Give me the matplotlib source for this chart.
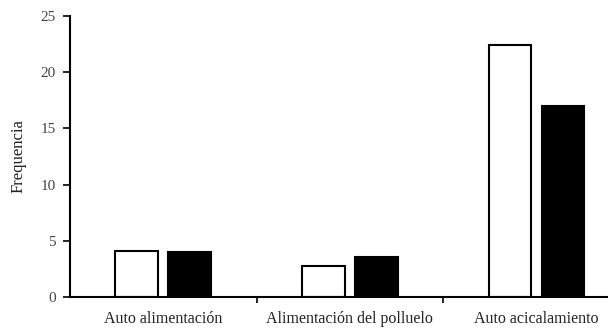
import matplotlib
matplotlib.use("Agg")
import matplotlib.pyplot as plt
import numpy as np

categories = ["Auto alimentación", "Alimentación del polluelo", "Auto acicalamiento"]
serie_blanca = [4.1, 2.8, 22.4]
serie_negra = [4.0, 3.6, 17.0]
y_ticks = [0, 5, 10, 15, 20, 25]

plt.rcParams['font.family'] = ['Liberation Serif', 'DejaVu Serif']

fig = plt.figure(figsize=(6.08, 3.29), dpi=100)
ax = fig.add_axes([70/608, 32/329, 1 - 70/608, 281/329])

x = np.arange(len(categories))
w = 0.23
off = 0.142
ax.bar(x - off, serie_blanca, width=w, color='white', edgecolor='black', linewidth=1.5)
ax.bar(x + off, serie_negra, width=w, color='black', edgecolor='black', linewidth=1.5)

ax.set_xlim(-0.5, 2.383)
ax.set_ylim(0, 25)
ax.set_yticks(y_ticks)
ax.set_yticklabels([str(t) for t in y_ticks], fontsize=11, color='#444444')
ax.set_xticks(x)
ax.set_xticklabels(categories, fontsize=11.5, color='#222222')
ax.tick_params(axis='x', which='major', length=0, pad=10)
ax.set_xticks([0.5, 1.5], minor=True)
ax.tick_params(axis='x', which='minor', length=4, width=1.2, direction='out')
ax.tick_params(axis='y', length=5, width=1.2, direction='out', pad=5)

for s in ['top', 'right']:
    ax.spines[s].set_visible(False)
for s in ['left', 'bottom']:
    ax.spines[s].set_linewidth(1.5)

ax.set_ylabel("Frequencia", fontsize=12, labelpad=10, color='#222222')

fig.savefig("out.png", dpi=100)
